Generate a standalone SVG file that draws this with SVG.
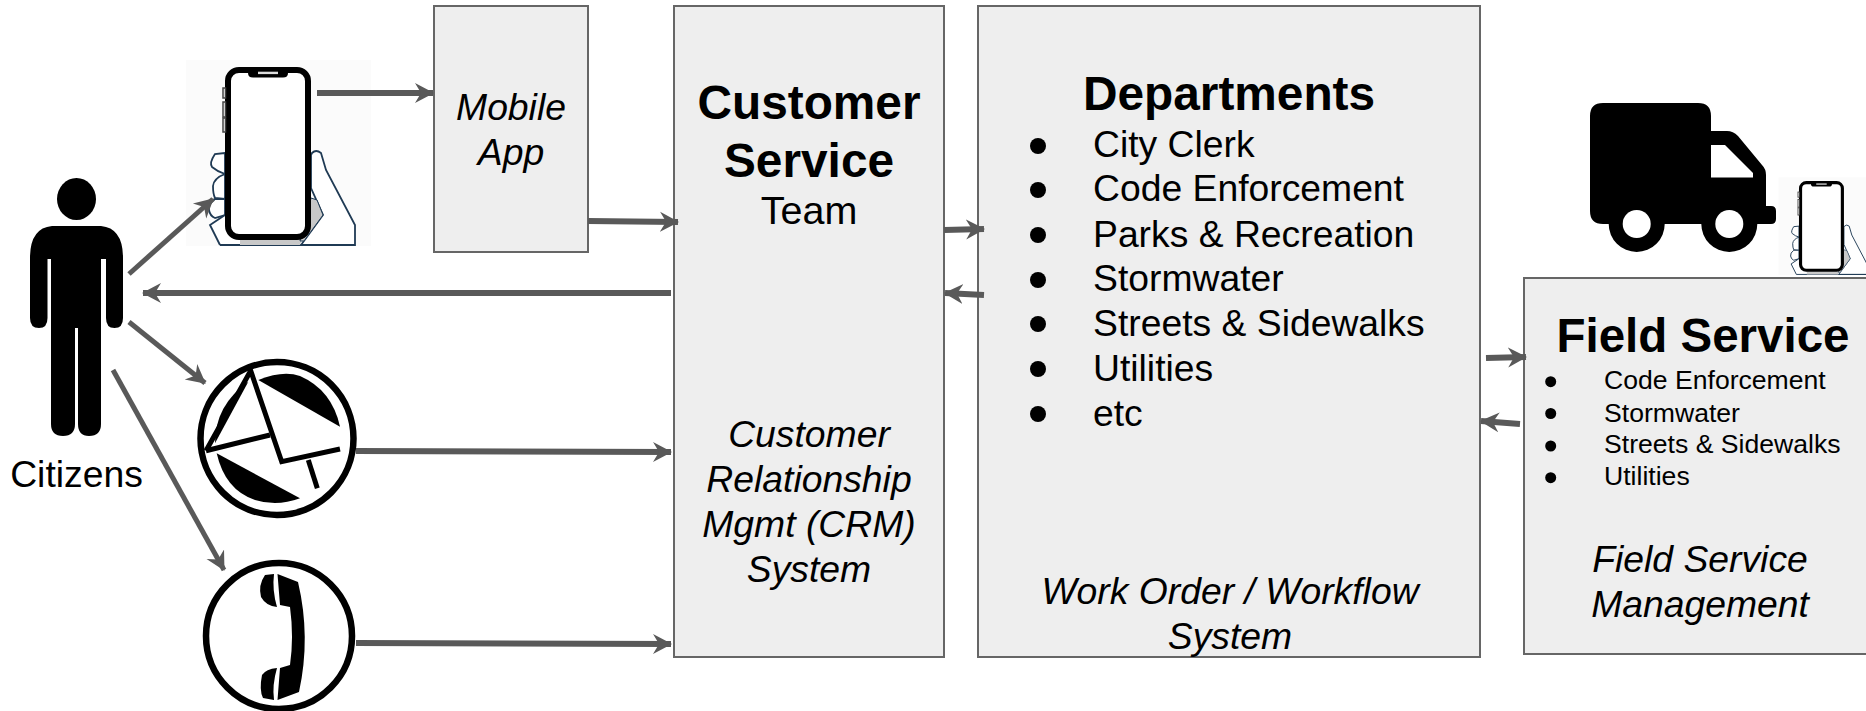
<svg xmlns="http://www.w3.org/2000/svg" xmlns:xlink="http://www.w3.org/1999/xlink" width="1866" height="711" viewBox="0 0 1866 711">
<style>
text{font-family:"Liberation Sans",Arial,sans-serif;fill:#000}
.box{fill:#eeeeee;stroke:#666666;stroke-width:2}
.h{font-size:47.800px;font-weight:bold;text-anchor:middle}
.b{font-size:37.300px}
.m{text-anchor:middle}
.i{font-size:37.300px;font-style:italic;text-anchor:middle}
.s{font-size:26.600px}
.c{fill:none;stroke:#595959;stroke-width:6;marker-end:url(#ah)}
.t{stroke-width:5}
</style>
<defs>
<marker id="ah" markerUnits="userSpaceOnUse" markerWidth="24" markerHeight="24" refX="18" refY="10" orient="auto" viewBox="0 0 24 20">
<path d="M19 10L0 0L6 10L0 20Z" fill="#595959"/>
</marker>
<symbol id="phone" overflow="visible" viewBox="0 0 1866 711" width="1866" height="711">
<rect x="186" y="60" width="185" height="186" fill="#fbfbfb"/>
<g fill="#fff" stroke="#1f3a54" stroke-width="1.800">
<path d="M225 153L215 154Q209 163 212 167Q218 172 225 174Z"/>
<path d="M225 174Q214 178 213 186Q213 194 215 198L225 199Z"/>
<path d="M225 199H215Q208 204 209 210Q210 216 215 218L225 215Z"/>
<path d="M225 215L210 225L220 245H301L305 220Z" stroke="none"/>
<path d="M225 215L210 225L220 245" fill="none"/>
<path d="M311 155L312 153Q316 149 321 153L326 170L355 225V245H301L323 215L311 188Z"/>
<path d="M220 245H355" fill="none"/>
</g>
<path d="M240 239H302L300 245H240Z" fill="#c8c8c8"/>
<path d="M311 198L317 200L323 215L304 241H300Z" fill="#c8c8c8" stroke="#1f3a54" stroke-width="1"/>
<rect x="228" y="70" width="80" height="167" rx="11" fill="#fff" stroke="#000" stroke-width="6"/>
<path d="M248 70H288V73Q288 77.500 283 77.500H253Q248 77.500 248 73Z" fill="#000"/>
<rect x="258" y="71.700" width="20" height="2.400" fill="#ddd"/>
<g fill="#fff" stroke="#444" stroke-width="1.500">
<rect x="223" y="88" width="2.500" height="10"/><rect x="223" y="102" width="2.500" height="15"/><rect x="223" y="118" width="2.500" height="14"/>
</g>
</symbol>
</defs>
<g id="citizens">
<ellipse cx="76.500" cy="199" rx="19.500" ry="21"/>
<path d="M52 226H101Q123 228 123 258V318Q123 328 114.500 328Q106 328 106 318V259H101V424Q101 436 89 436Q78 436 78 424V328H75V424Q75 436 63 436Q51 436 51 424V259H47.500V318Q47.500 328 39 328Q30 328 30 318V258Q30 228 52 226Z"/>
<text class="b m" x="76.500" y="487">Citizens</text>
</g>
<g id="phone-main"><use href="#phone" xlink:href="#phone"/></g>
<g id="email">
<circle cx="277" cy="438.500" r="76.500" fill="#fff" stroke="#000" stroke-width="6.500"/>
<path d="M258.300 380Q283 370 300 376Q332 390 340 426.700Z"/>
<path d="M248.300 381.700Q215 405 215 443.300Z"/>
<path d="M216.700 453.300L300 498.300Q277 507 255 500Q225 490 216.700 453.300Z"/>
<g fill="none" stroke="#000" stroke-width="5">
<path d="M206 450.700L250.700 370.700L281.700 461.700L340 449"/>
<path d="M206 450.700L270 435"/>
<path d="M308.300 460L317.300 488.300"/>
</g>
</g>
<g id="telephone">
<circle cx="279" cy="636" r="73" fill="#fff" stroke="#000" stroke-width="6.500"/>
<path d="M277.500 574L298 582Q311 637 299 692L277.500 700L280 668L290 665Q294 637 290 607L280 605Z"/>
<path d="M274 574L265 575Q258 585 261 597Q266 606 277 607Q272 590 274 574Z"/>
<path d="M277 668Q266 669 262 675Q259 690 263 698L274 700Q272 685 277 668Z"/>
</g>
<g id="mobile-app">
<rect class="box" x="434" y="6" width="154" height="246"/>
<text class="i" x="511" y="120">Mobile</text>
<text class="i" x="511" y="165">App</text>
</g>
<g id="customer-service">
<rect class="box" x="674" y="6" width="270" height="651"/>
<text class="h" x="809" y="119">Customer</text>
<text class="h" x="809" y="177">Service</text>
<text class="b m" x="809" y="224" style="font-size:39.500px">Team</text>
<text class="i" x="809" y="447">Customer</text>
<text class="i" x="809" y="492">Relationship</text>
<text class="i" x="809" y="537">Mgmt (CRM)</text>
<text class="i" x="809" y="582">System</text>
</g>
<g id="departments">
<rect class="box" x="978" y="6" width="502" height="651"/>
<text class="h" x="1229" y="110">Departments</text>
<g fill="#000">
<circle cx="1038" cy="146" r="8"/><circle cx="1038" cy="190" r="8"/><circle cx="1038" cy="235" r="8"/><circle cx="1038" cy="280" r="8"/><circle cx="1038" cy="324" r="8"/><circle cx="1038" cy="369" r="8"/><circle cx="1038" cy="414" r="8"/>
</g>
<text class="b" x="1093" y="157">City Clerk</text>
<text class="b" x="1093" y="201">Code Enforcement</text>
<text class="b" x="1093" y="247">Parks &amp; Recreation</text>
<text class="b" x="1093" y="291">Stormwater</text>
<text class="b" x="1093" y="336">Streets &amp; Sidewalks</text>
<text class="b" x="1093" y="381">Utilities</text>
<text class="b" x="1093" y="426">etc</text>
<text class="i" x="1230" y="604">Work Order / Workflow</text>
<text class="i" x="1230" y="649">System</text>
</g>
<g id="truck">
<path d="M1603 103H1698Q1711 103 1711 116V131H1727Q1733 131 1738 136L1762 165Q1766 169 1766 175V206H1771Q1776 206 1776 211V219Q1776 224 1771 224H1757.300A28 28 0 0 1 1701.300 224H1664.700A28 28 0 0 1 1608.700 224H1603Q1590 224 1590 211V116Q1590 103 1603 103Z"/>
<path d="M1711 145H1725L1753 173V177.500H1711Z" fill="#fff"/>
<circle cx="1636.700" cy="224" r="14" fill="#fff"/>
<circle cx="1729.300" cy="224" r="14" fill="#fff"/>
</g>
<g id="phone-field"><use href="#phone" xlink:href="#phone" transform="translate(1681.300 145.800) scale(.523 .525)"/></g>
<g id="field-service">
<rect class="box" x="1524" y="278" width="350" height="376"/>
<text class="h" x="1703" y="352" style="font-size:47.500px">Field Service</text>
<g fill="#000">
<circle cx="1550.700" cy="381.700" r="5.500"/><circle cx="1550.700" cy="413.500" r="5.500"/><circle cx="1550.700" cy="446" r="5.500"/><circle cx="1550.700" cy="477.700" r="5.500"/>
</g>
<text class="s" x="1604" y="389.300">Code Enforcement</text>
<text class="s" x="1604" y="421.500">Stormwater</text>
<text class="s" x="1604" y="453.300">Streets &amp; Sidewalks</text>
<text class="s" x="1604" y="485">Utilities</text>
<text class="i" x="1700" y="572">Field Service</text>
<text class="i" x="1700" y="617">Management</text>
</g>
<g id="connectors">
<path class="c" d="M317 93H433"/>
<path class="c t" d="M129 274L213 199"/>
<path class="c" d="M588 221L678 222"/>
<path class="c" d="M671 293H143"/>
<path class="c t" d="M129 322L205 383"/>
<path class="c t" d="M113 370L224 570"/>
<path class="c" d="M356 451L671 452"/>
<path class="c" d="M356 643L671 644"/>
<path class="c" d="M944 230L984 229"/>
<path class="c" d="M984 295L945 293"/>
<path class="c" d="M1486 358L1526 357"/>
<path class="c" d="M1520 424L1481 421"/>
</g>
</svg>
